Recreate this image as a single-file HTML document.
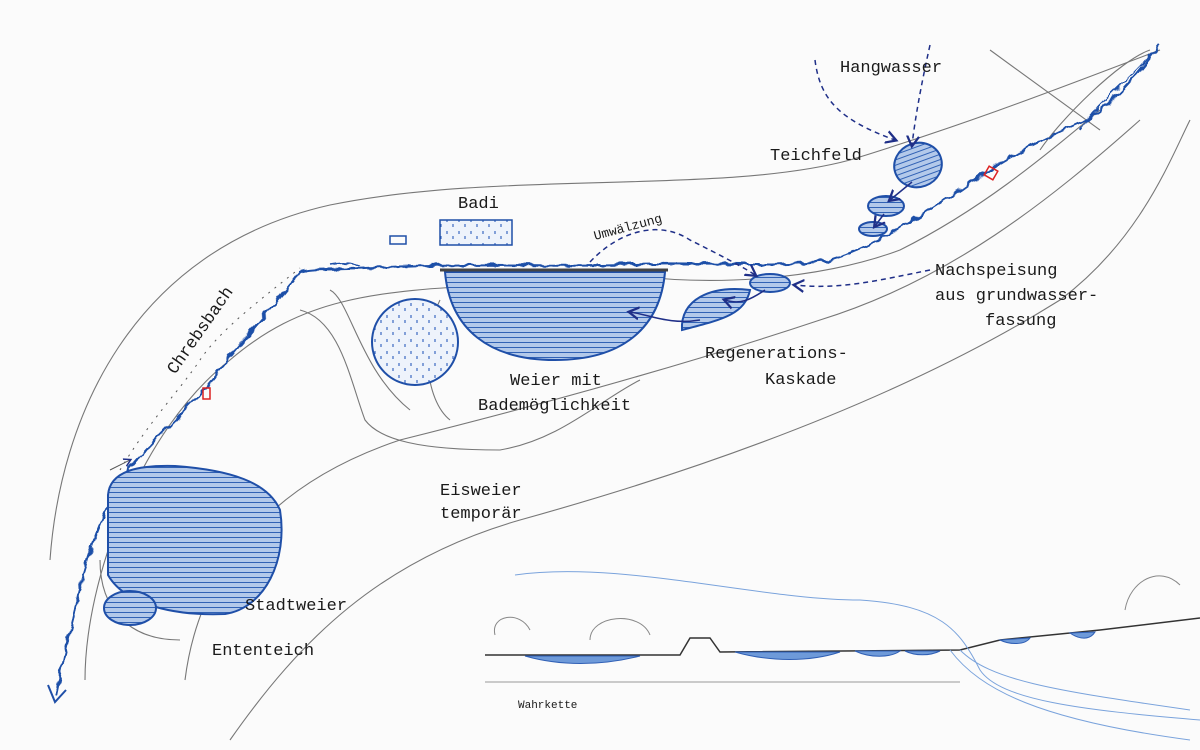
<!DOCTYPE html>
<html><head><meta charset="utf-8"><style>
html,body{margin:0;padding:0;background:#fbfbfb;}
svg{display:block}
text{font-family:"Liberation Mono",monospace;fill:#1a1a1a;}
</style></head><body>
<svg width="1200" height="750" viewBox="0 0 1200 750" xmlns="http://www.w3.org/2000/svg">
<defs>
<pattern id="h" width="8" height="5" patternUnits="userSpaceOnUse"><rect width="8" height="5" fill="#b3c9ea"/><path d="M0 2.5H8" stroke="#3162b5" stroke-width="1"/></pattern>
<pattern id="d" width="12" height="12" patternUnits="userSpaceOnUse"><rect width="12" height="12" fill="#eef3fb"/><path d="M3 3v3M9 8v3" stroke="#3a68c0" stroke-width="1.2"/></pattern>
<marker id="a" markerWidth="10" markerHeight="10" refX="6" refY="5" orient="auto"><path d="M0 1L7 5L0 9" fill="none" stroke="#1f2f88" stroke-width="1.5"/></marker>
<filter id="w" x="-5%" y="-5%" width="110%" height="110%"><feTurbulence type="fractalNoise" baseFrequency="0.12" numOctaves="1" seed="3"/><feDisplacementMap in="SourceGraphic" scale="7"/></filter>
</defs>
<g fill="none" stroke="#777" stroke-width="1.1">
<path d="M50 560C60 420 130 250 330 205C500 170 720 195 850 160C980 120 1080 80 1160 50"/>
<path d="M85 680C85 580 140 430 230 360C300 300 370 290 500 285"/>
<path d="M185 680C200 560 280 480 400 440C560 400 700 360 820 320C950 280 1050 200 1140 120"/>
<path d="M230 740C300 640 380 560 520 520C700 470 900 400 1060 300C1140 240 1170 160 1190 120"/>
<path d="M600 270C700 290 820 280 900 250C980 210 1040 160 1100 110"/>
<path d="M990 50L1100 130"/><path d="M1040 150C1060 120 1120 60 1150 50"/>
<path d="M300 310C340 320 350 380 365 420C380 440 420 450 500 450C560 440 600 400 640 380"/>
<path d="M330 290C350 300 360 370 410 410"/>
<path d="M440 300C420 340 425 400 450 420"/>
<path d="M100 560C100 610 130 640 180 640"/>
</g>
<g filter="url(#w)">
<path d="M1160 45C1140 70 1120 100 1085 120C1040 140 1000 160 960 190C920 215 880 245 830 260C780 268 700 262 640 264C560 268 480 262 370 268C330 270 310 268 300 272C280 300 250 330 220 370C190 410 150 440 120 480C100 520 85 560 75 610C65 650 60 675 56 695" fill="none" stroke="#1f4fa8" stroke-width="2.5"/>
<path d="M1150 55C1130 80 1100 100 1080 130M360 266C350 262 340 262 330 264" fill="none" stroke="#1f4fa8" stroke-width="1.5"/>
</g>
<path d="M48 685L55 702L66 690" fill="none" stroke="#1f4fa8" stroke-width="2"/>
<path d="M120 470C150 420 180 390 200 360C220 330 260 300 300 268" fill="none" stroke="#555" stroke-width="1" stroke-dasharray="2 6"/>
<path d="M110 470L130 460" stroke="#555" marker-end="url(#a)"/>
<path d="M108 495C110 470 140 465 175 466C230 470 268 482 280 510C288 560 265 608 225 614C175 616 125 605 108 575Z" fill="url(#h)" stroke="#1f4fa8" stroke-width="2"/>
<ellipse cx="130" cy="608" rx="26" ry="17" fill="url(#h)" stroke="#1f4fa8" stroke-width="2"/>
<path d="M445 272H665C660 330 620 360 555 360C490 360 450 330 445 272Z" fill="url(#h)" stroke="#1f4fa8" stroke-width="2"/>
<path d="M440 270H668" stroke="#444" stroke-width="3"/>
<ellipse cx="415" cy="342" rx="43" ry="43" fill="url(#d)" stroke="#1f4fa8" stroke-width="2"/>
<path d="M682 330C680 300 710 285 750 290C745 315 720 320 682 330Z" fill="url(#h)" stroke="#1f4fa8" stroke-width="2"/>
<ellipse cx="770" cy="283" rx="20" ry="9" fill="url(#h)" stroke="#1f4fa8" stroke-width="2"/>
<ellipse cx="918" cy="165" rx="24" ry="22" transform="rotate(-20 918 165)" fill="url(#h)" stroke="#1f4fa8" stroke-width="2"/>
<ellipse cx="886" cy="206" rx="18" ry="10" fill="url(#h)" stroke="#1f4fa8" stroke-width="2"/>
<ellipse cx="873" cy="229" rx="14" ry="7" fill="url(#h)" stroke="#1f4fa8" stroke-width="2"/>
<rect x="440" y="220" width="72" height="25" fill="url(#d)" stroke="#1f4fa8" stroke-width="1.5"/>
<rect x="390" y="236" width="16" height="8" fill="none" stroke="#1f4fa8" stroke-width="1.5"/>
<rect x="986" y="168" width="10" height="10" fill="none" stroke="#d22" stroke-width="1.5" transform="rotate(30 991 173)"/>
<rect x="203" y="388" width="7" height="11" fill="none" stroke="#d22" stroke-width="1.5"/>
<g fill="none" stroke="#1f2f88" stroke-width="1.5" stroke-dasharray="5 4">
<path d="M815 60C820 100 840 120 895 140" marker-end="url(#a)"/>
<path d="M930 45C920 90 915 120 912 145" marker-end="url(#a)"/>
<path d="M590 262C620 230 660 220 690 240C720 255 745 268 755 275" marker-end="url(#a)"/>
<path d="M930 270C880 280 840 290 795 285" marker-end="url(#a)"/>
</g>
<g fill="none" stroke="#1f2f88" stroke-width="1.5">
<path d="M912 182L890 200" marker-end="url(#a)"/><path d="M884 214L875 226" marker-end="url(#a)"/>
<path d="M765 290C750 300 740 305 725 300" marker-end="url(#a)"/>
<path d="M700 320C670 325 650 315 630 312" marker-end="url(#a)"/>
</g>
<g font-size="17">
<text x="840" y="72">Hangwasser</text>
<text x="770" y="160">Teichfeld</text>
<text x="458" y="208">Badi</text>
<text x="595" y="240" font-size="13" transform="rotate(-15 595 240)">Umwälzung</text>
<text x="935" y="275">Nachspeisung</text>
<text x="935" y="300">aus grundwasser-</text>
<text x="985" y="325">fassung</text>
<text x="705" y="358">Regenerations-</text>
<text x="765" y="384">Kaskade</text>
<text x="510" y="385">Weier mit</text>
<text x="478" y="410">Bademöglichkeit</text>
<text x="440" y="495">Eisweier</text>
<text x="440" y="518">temporär</text>
<text x="245" y="610">Stadtweier</text>
<text x="212" y="655">Ententeich</text>
<text x="175" y="375" transform="rotate(-55 175 375)">Chrebsbach</text>
<text x="518" y="708" font-size="11">Wahrkette</text>
</g>
<path d="M485 655L680 655L690 638L710 638L720 652L960 650L1000 640L1100 630L1200 618" fill="none" stroke="#333" stroke-width="1.5"/>
<path d="M485 682H960" stroke="#999"/>
<g fill="#6e9ad9" stroke="#2f5fb5">
<path d="M525 656C560 666 600 666 640 656Z"/><path d="M735 652C770 662 810 662 840 652Z"/>
<path d="M855 651C870 658 890 658 900 651Z"/><path d="M905 651C915 656 930 656 940 651Z"/>
<path d="M1070 633C1080 640 1090 640 1095 632Z"/><path d="M1000 640C1010 645 1025 645 1030 638Z"/>
</g>
<g fill="none" stroke="#7aa3dc" stroke-width="1">
<path d="M515 575C620 560 760 600 860 600C940 605 960 630 980 670C1000 700 1080 710 1200 720"/>
<path d="M960 650C990 680 1050 690 1190 710"/><path d="M950 650C980 690 1040 720 1190 740"/>
</g>
<g fill="none" stroke="#888">
<path d="M495 635C490 615 520 610 530 630"/><path d="M590 640C590 615 640 610 650 635"/>
<path d="M1125 610C1130 580 1160 565 1180 585"/>
</g>
</svg>
</body></html>
